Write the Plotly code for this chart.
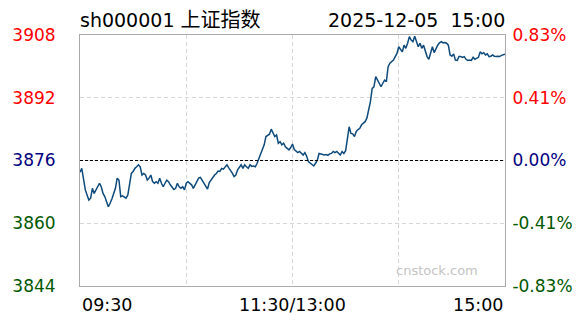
import plotly.graph_objects as go

# ---- data (minute index since 09:30 open, skipping lunch break; index price) ----
minute_idx = [0, 1, 3, 4, 5, 6, 7, 8, 10, 11, 12, 13, 14, 15, 16, 17, 18, 20, 21, 22,
              23, 24, 25, 26, 27, 29, 30, 31, 32, 33, 34, 35, 36, 37, 38, 39, 40, 41, 42, 43,
              44, 45, 46, 47, 48, 49, 50, 51, 53, 54, 55, 56, 57, 58, 59, 60, 61, 63, 64, 65,
              66, 67, 68, 69, 70, 71, 72, 73, 74, 75, 76, 77, 78, 79, 80, 81, 82, 83, 84, 85,
              86, 87, 88, 89, 90, 91, 92, 93, 94, 95, 96, 97, 98, 99, 100, 101, 102, 103, 104, 105,
              106, 107, 108, 109, 110, 111, 112, 113, 114, 115, 116, 117, 118, 119, 120, 121, 122, 123, 124, 125,
              126, 127, 128, 129, 130, 131, 132, 133, 134, 135, 136, 137, 138, 139, 140, 141, 142, 143, 144, 145,
              146, 147, 148, 149, 150, 151, 152, 153, 154, 155, 156, 157, 158, 159, 160, 161, 162, 163, 164, 165,
              166, 167, 168, 169, 170, 171, 172, 173, 174, 175, 176, 177, 178, 179, 180, 181, 182, 183, 184, 185,
              186, 187, 188, 189, 190, 191, 192, 193, 194, 195, 196, 197, 198, 199, 200, 201, 202, 203, 204, 205,
              206, 207, 208, 209, 210, 211, 212, 213, 214, 215, 216, 217, 218, 219, 220, 221, 222, 223, 224, 225,
              226, 227, 228, 229, 230, 231, 232, 233, 234, 235, 236, 237, 238, 239, 240]
price = [3873.0, 3874.0, 3868.5, 3867.2, 3865.9, 3866.4, 3868.9, 3867.6, 3869.3, 3870.2,
         3869.3, 3867.6, 3866.8, 3865.5, 3864.2, 3865.1, 3866.2, 3868.9, 3871.5, 3871.0,
         3866.8, 3867.0, 3866.8, 3866.4, 3867.2, 3872.7, 3873.2, 3874.0, 3874.4, 3874.9,
         3874.4, 3872.3, 3872.7, 3872.3, 3871.0, 3871.5, 3872.3, 3870.6, 3870.2, 3870.6,
         3870.2, 3871.5, 3870.2, 3869.3, 3870.2, 3871.0, 3870.6, 3869.8, 3868.6, 3868.9,
         3870.2, 3869.3, 3868.9, 3869.3, 3868.5, 3870.2, 3870.6, 3869.8, 3868.9, 3869.8,
         3870.6, 3871.5, 3871.7, 3871.0, 3870.2, 3869.3, 3868.7, 3870.4, 3871.0, 3871.9,
         3872.3, 3872.7, 3873.3, 3873.2, 3874.0, 3873.8, 3874.3, 3874.9, 3874.1, 3873.5,
         3872.8, 3871.9, 3872.3, 3873.6, 3874.4, 3874.9, 3874.0, 3874.9, 3874.4, 3874.0,
         3874.9, 3874.5, 3874.6, 3874.4, 3875.3, 3876.6, 3877.8, 3878.7, 3880.0, 3882.1,
         3882.3, 3882.7, 3884.0, 3882.9, 3882.1, 3882.5, 3880.4, 3880.8, 3880.0, 3880.4,
         3879.5, 3879.1, 3878.7, 3879.3, 3880.2, 3878.8, 3878.3, 3878.0, 3878.3, 3877.8,
         3877.4, 3878.0, 3877.1, 3875.7, 3875.4, 3875.1, 3874.6, 3875.3, 3876.1, 3877.8,
         3877.6, 3877.5, 3877.4, 3877.5, 3877.3, 3877.7, 3877.8, 3878.3, 3878.0, 3878.3,
         3877.7, 3877.4, 3878.3, 3877.8, 3878.5, 3881.2, 3884.6, 3882.9, 3882.8, 3882.1,
         3883.4, 3883.9, 3884.2, 3885.1, 3885.5, 3885.9, 3886.8, 3888.9, 3891.0, 3894.4,
         3894.8, 3897.4, 3896.5, 3895.8, 3894.8, 3895.7, 3896.5, 3896.1, 3899.9, 3900.8,
         3901.2, 3901.6, 3902.5, 3903.3, 3905.0, 3904.4, 3903.7, 3905.4, 3904.6, 3905.9,
         3907.6, 3906.7, 3906.3, 3907.7, 3906.3, 3905.0, 3905.9, 3904.6, 3905.4, 3903.7,
         3902.5, 3901.8, 3903.7, 3905.0, 3903.5, 3904.6, 3905.4, 3906.0, 3906.3, 3906.0,
         3906.1, 3905.9, 3905.4, 3902.9, 3902.6, 3903.2, 3901.6, 3901.5, 3902.5, 3902.5,
         3902.3, 3902.5, 3901.8, 3901.5, 3901.6, 3901.5, 3902.3, 3901.8, 3902.0, 3902.3,
         3903.7, 3903.2, 3903.5, 3902.9, 3903.2, 3902.5, 3902.6, 3902.9, 3902.6, 3902.5,
         3902.6, 3902.5, 3902.8, 3902.9, 3903.1]

prev_close = 3876
price_ticks = [3844, 3860, 3876, 3892, 3908]
tick_colors = ["#005800", "#005800", "#000080", "#ff0000", "#ff0000"]
time_tick_idx = [0, 120, 240]
time_tick_labels = ["09:30", "11:30/13:00", "15:00"]
grid_idx = [60, 120, 180]
title_code = "sh000001"
title_name = "上证指数"
date_text = "2025-12-05\u00a0\u00a015:00"
watermark = "cnstock.com"

FONT = "DejaVu Sans, Verdana, Noto Sans CJK SC, sans-serif"

pct = [(p / prev_close - 1) * 100 for p in price]
pct_ticks = [(v / prev_close - 1) * 100 for v in price_ticks]

left_text = [f'<span style="color:{c}">{v}</span>' for v, c in zip(price_ticks, tick_colors)]
right_text = [f'<span style="color:{c}">{v:.2f}%</span>' for v, c in zip(pct_ticks, tick_colors)]

fig = go.Figure()
fig.add_trace(go.Scatter(x=minute_idx, y=price, mode="lines",
                         line=dict(color="#0e4a7c", width=1.5), hoverinfo="skip"))
fig.add_trace(go.Scatter(x=minute_idx, y=pct, mode="lines", yaxis="y2",
                         line=dict(color="rgba(0,0,0,0)", width=0), hoverinfo="skip"))

fig.add_shape(type="line", xref="paper", x0=0, x1=1, yref="y", y0=prev_close, y1=prev_close,
              line=dict(color="black", width=1, dash="3px,2px"), layer="above")

fig.update_layout(
    width=588, height=324,
    margin=dict(l=78, r=83, t=35, b=38),
    paper_bgcolor="white", plot_bgcolor="white",
    showlegend=False,
    font=dict(family=FONT, size=17, color="black"),
    xaxis=dict(range=[0, 240], tickvals=grid_idx, showticklabels=False, ticks="",
               showgrid=True, gridcolor="#d6d6d6", griddash="4px,3px", gridwidth=1,
               zeroline=False, showline=True, mirror=True, linecolor="#aaaaaa", linewidth=1),
    yaxis=dict(range=[price_ticks[0], price_ticks[-1]], tickvals=price_ticks, ticktext=left_text,
               ticks="outside", ticklen=20, tickcolor="rgba(0,0,0,0)",
               tickfont=dict(size=17, family=FONT),
               showgrid=True, gridcolor="#d6d6d6", griddash="4px,3px", gridwidth=1,
               zeroline=False, showline=True, mirror=True, linecolor="#aaaaaa", linewidth=1),
    yaxis2=dict(range=[pct_ticks[0], pct_ticks[-1]], tickvals=pct_ticks, ticktext=right_text,
                overlaying="y", side="right", ticks="outside", ticklen=3,
                tickcolor="rgba(0,0,0,0)", tickfont=dict(size=17, family=FONT),
                showgrid=False, zeroline=False, showline=False),
)

for idx, lab, anc in zip(time_tick_idx, time_tick_labels, ["left", "center", "right"]):
    fig.add_annotation(x=idx, xref="x", y=0, yref="paper", text=lab, showarrow=False,
                       xanchor=anc, yanchor="top", yshift=-7,
                       font=dict(size=17.5, family=FONT, color="black"))

fig.add_annotation(x=0, xref="paper", y=1, yref="paper",
                   text=f'{title_code} <span style="font-size:20px">{title_name}</span>',
                   showarrow=False, xanchor="left", yanchor="middle", yshift=15, xshift=-2,
                   font=dict(size=19, family=FONT, color="black"))
fig.add_annotation(x=1, xref="paper", y=1, yref="paper", text=date_text, showarrow=False,
                   xanchor="right", yanchor="middle", yshift=15, xshift=2,
                   font=dict(size=19, family=FONT, color="black"))
fig.add_annotation(x=0.9415, xref="paper", y=0.06, yref="paper", text=watermark, showarrow=False,
                   xanchor="right", yanchor="middle",
                   font=dict(size=13, family=FONT, color="#c4c4c4"))

fig.write_html("out.html")
